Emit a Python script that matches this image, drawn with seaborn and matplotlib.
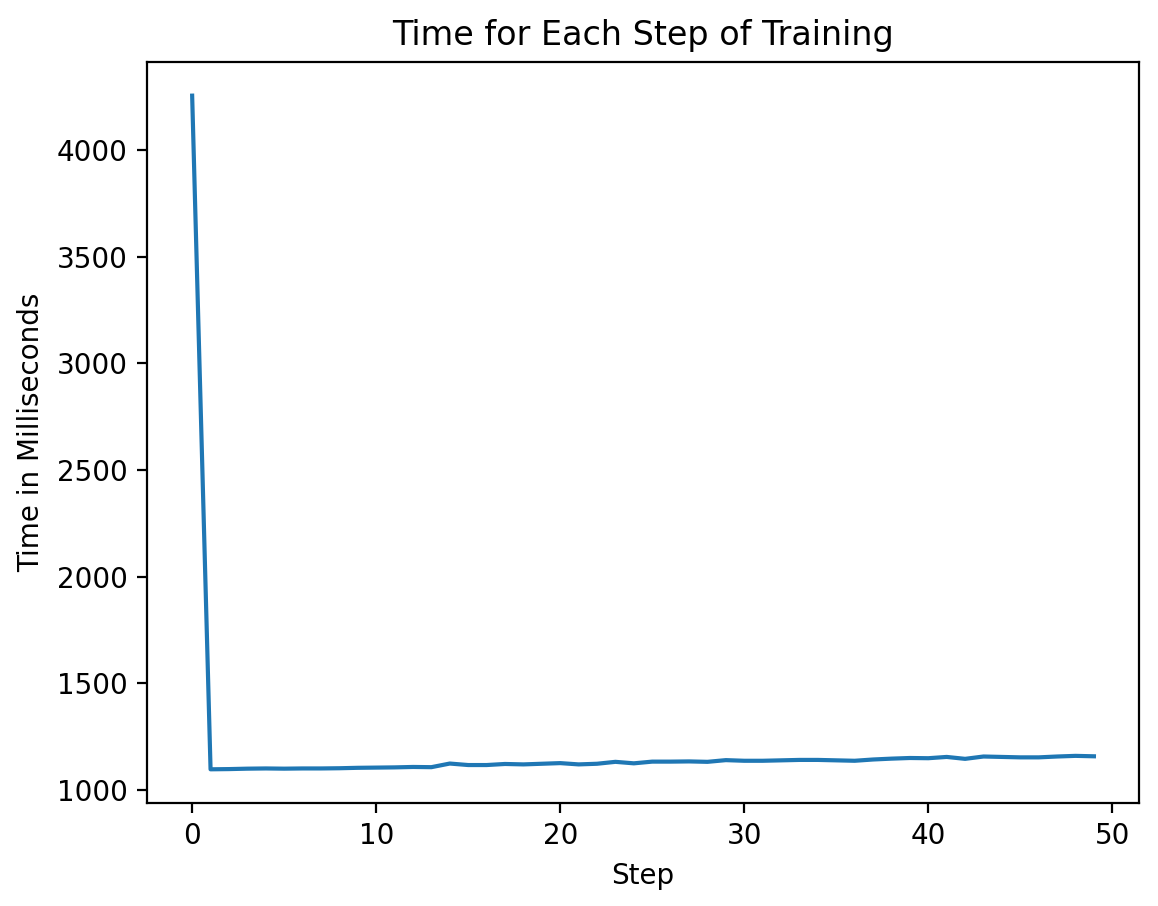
import pandas as pd
import matplotlib
matplotlib.use("Agg")
import matplotlib.pyplot as plt
import seaborn as sns

# time per training step in ms
steps = list(range(50))
times_ms = [
    4255, 1097, 1098, 1100, 1101, 1100, 1101, 1101, 1102, 1104,
    1105, 1106, 1108, 1107, 1124, 1117, 1117, 1122, 1120, 1123,
    1126, 1120, 1123, 1132, 1125, 1133, 1133, 1134, 1132, 1140,
    1137, 1137, 1139, 1141, 1141, 1139, 1137, 1143, 1147, 1150,
    1149, 1155, 1146, 1157, 1155, 1153, 1153, 1157, 1160, 1158,
]

df = pd.DataFrame({"Step": steps, "Time": times_ms})

fig = plt.figure(figsize=(5.79, 4.53), dpi=200)
ax = fig.add_axes([0.127, 0.1137, 0.8566, 0.8179])
sns.lineplot(data=df, x="Step", y="Time", ax=ax, color="#1f77b4", linewidth=1.5)
ax.set_title("Time for Each Step of Training")
ax.set_xlabel("Step")
ax.set_ylabel("Time in Milliseconds")

fig.savefig("out.png", dpi=200)
